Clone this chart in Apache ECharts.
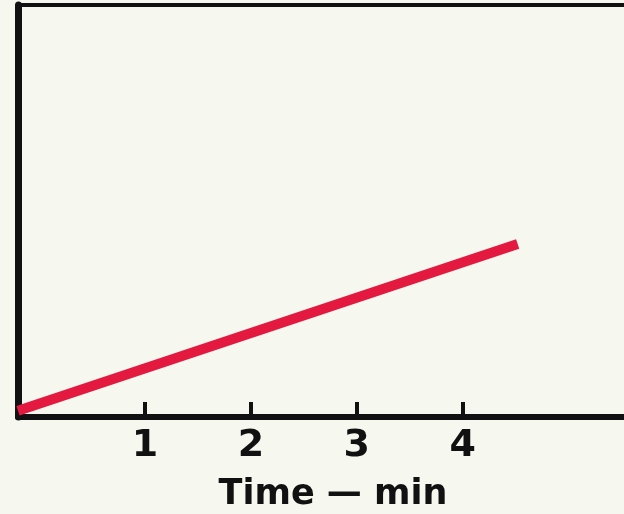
<!DOCTYPE html>
<html>
<head>
<meta charset="utf-8">
<script src="https://cdn.jsdelivr.net/npm/echarts@6/dist/echarts.min.js"></script>
<style>
  html, body { margin: 0; padding: 0; background: #f6f7ee; }
  #chart { width: 624px; height: 514px; }
</style>
</head>
<body>
<div id="chart"></div>
<script>
// data
const tickValues = [1, 2, 3, 4];
const timeMin = [-0.2, 4.52];
const level = [1.5, 42];
const axisTitle = 'Time \u2014 min';

const chart = echarts.init(document.getElementById('chart'));
chart.setOption({
  backgroundColor: '#f6f7ee',
  animation: false,
  grid: {
    left: 18, right: -8, top: 5, bottom: 97,
    outerBoundsMode: 'none',
    containLabel: false,
    show: true, borderColor: '#111', borderWidth: 4, backgroundColor: 'transparent'
  },
  xAxis: {
    type: 'value',
    min: -0.2, max: 5.6,
    name: axisTitle,
    nameLocation: 'middle',
    nameGap: 60,
    nameTextStyle: { color: '#111', fontSize: 35, fontWeight: 'bold', fontFamily: 'DejaVu Sans', padding: [0, 0, 0, 16] },
    axisLine: { onZero: false, lineStyle: { color: '#111', width: 6 } },
    axisTick: { show: true, inside: true, length: 15, customValues: tickValues, lineStyle: { color: '#111', width: 4 } },
    axisLabel: { customValues: tickValues, color: '#111', fontSize: 38, fontWeight: 'bold', fontFamily: 'DejaVu Sans', margin: 10 },
    splitLine: { show: false }
  },
  yAxis: {
    type: 'value',
    min: 0, max: 100,
    axisLine: { show: true, onZero: false, lineStyle: { color: '#111', width: 7 } },
    axisTick: { show: false },
    axisLabel: { show: false },
    splitLine: { show: false }
  },
  series: [{
    type: 'line',
    data: timeMin.map((t, i) => [t, level[i]]),
    showSymbol: false,
    lineStyle: { color: '#e3193f', width: 10, cap: 'butt' },
    z: 1
  }]
});
</script>
</body>
</html>
